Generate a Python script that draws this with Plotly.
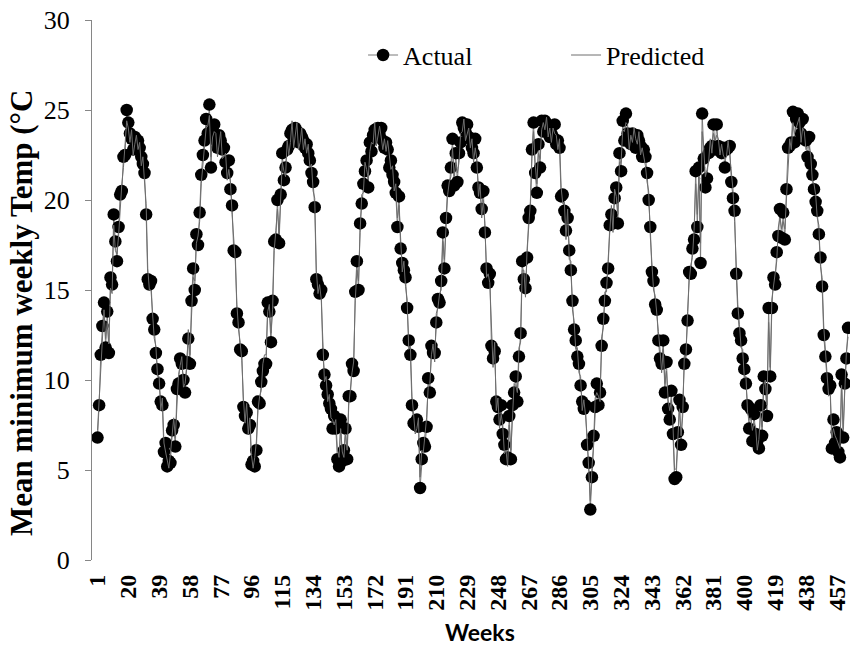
import plotly.graph_objects as go

# Actual mean minimum weekly temperature, read year by year (52 weeks each, last year partial)
actual_y1 = [6.8, 8.6, 11.4, 13.0, 14.3, 11.8, 13.8, 11.5, 15.7, 15.3, 19.2, 17.7, 16.6, 18.5, 20.3, 20.5, 22.4, 22.5, 25.0, 24.3,
             23.7, 23.4, 22.8, 23.5, 23.2, 23.3, 22.9, 22.4, 22.0, 21.5, 19.2, 15.6, 15.3, 15.5, 13.4, 12.8, 11.5, 10.6, 9.8, 8.8,
             8.6, 6.0, 6.5, 5.2, 5.5, 5.4, 7.2, 7.5, 6.3, 9.5, 9.8, 11.2]
actual_y2 = [10.9, 10.0, 9.3, 11.0, 12.3, 10.9, 14.4, 16.2, 15.0, 18.1, 17.5, 19.3, 21.4, 22.5, 23.3, 24.5, 23.7, 25.3, 21.8, 24.0,
             24.2, 23.3, 22.9, 23.6, 23.3, 22.8, 22.9, 22.1, 21.5, 22.2, 20.6, 19.7, 17.2, 17.1, 13.7, 13.2, 11.7, 11.6, 8.5, 8.0,
             8.2, 7.3, 7.5, 5.3, 5.5, 5.2, 6.1, 8.8, 8.7, 9.9, 10.5, 10.9]
actual_y3 = [10.9, 14.3, 13.8, 12.1, 14.4, 17.7, 17.8, 20.0, 17.6, 20.3, 22.6, 21.1, 21.8, 22.8, 23.0, 23.7, 23.9, 23.4, 24.0, 23.8,
             23.2, 23.7, 23.5, 23.3, 22.9, 23.1, 22.6, 22.2, 21.5, 21.0, 19.6, 15.6, 15.3, 14.8, 15.0, 11.4, 10.3, 9.7, 9.2, 8.7,
             8.4, 7.3, 8.0, 7.3, 5.6, 5.2, 7.8, 5.5, 6.1, 7.3, 5.6, 9.1]
actual_y4 = [9.1, 10.9, 10.5, 14.9, 16.6, 15.0, 18.7, 19.8, 20.9, 21.6, 22.2, 20.7, 23.2, 22.7, 23.6, 23.9, 23.5, 24.0, 23.6, 24.0,
             23.3, 22.9, 23.2, 22.8, 21.8, 22.2, 21.4, 21.0, 20.4, 18.5, 20.2, 17.3, 16.5, 16.1, 15.7, 14.0, 12.2, 11.4, 8.6, 7.6,
             7.5, 7.8, 7.4, 4.0, 5.6, 6.5, 6.3, 7.4, 10.1, 9.3, 11.9, 11.5]
actual_y5 = [11.5, 13.2, 14.5, 14.3, 15.5, 18.2, 16.2, 19.0, 20.8, 20.5, 21.8, 23.4, 20.8, 22.6, 21.0, 22.6, 23.2, 24.3, 24.0, 23.8,
             24.2, 23.5, 23.4, 22.9, 22.6, 23.4, 21.8, 20.7, 20.4, 19.5, 20.5, 18.2, 16.2, 15.4, 15.9, 11.9, 11.2, 11.6, 8.8, 8.5,
             7.8, 8.6, 7.0, 6.4, 5.6, 5.7, 8.0, 5.6, 8.6, 9.3, 10.2, 8.8]
actual_y6 = [11.3, 12.6, 16.6, 15.6, 15.1, 16.8, 19.0, 19.4, 22.8, 24.3, 21.5, 20.4, 23.1, 21.8, 24.4, 23.8, 24.4, 24.1, 24.0, 23.5,
             23.7, 23.5, 24.2, 23.1, 23.3, 22.9, 20.2, 20.3, 19.4, 18.3, 19.0, 17.2, 16.1, 14.4, 12.8, 12.2, 11.3, 10.9, 9.7, 8.8,
             8.4, 8.6, 6.4, 5.4, 2.8, 4.6, 6.9, 8.5, 9.8, 8.6, 9.3, 11.9]
actual_y7 = [13.4, 14.4, 15.4, 16.2, 18.6, 19.2, 18.7, 20.1, 20.7, 18.7, 22.6, 21.6, 24.4, 23.3, 24.8, 23.7, 23.3, 23.1, 23.7, 23.5,
             22.9, 23.6, 23.3, 23.0, 22.4, 22.8, 22.4, 21.5, 20.0, 18.5, 16.0, 15.5, 14.2, 13.9, 12.2, 11.2, 10.9, 12.2, 9.3, 11.0,
             8.4, 7.8, 9.4, 7.0, 4.5, 4.6, 7.1, 8.9, 6.4, 8.5, 10.9, 11.7]
actual_y8 = [13.3, 16.0, 15.9, 17.3, 17.8, 21.6, 18.5, 21.8, 16.5, 24.8, 22.3, 20.7, 21.2, 22.6, 22.9, 23.0, 24.2, 22.8, 24.2, 23.0,
             22.9, 22.6, 22.9, 21.8, 22.8, 22.9, 23.0, 21.0, 20.1, 19.4, 15.9, 13.7, 12.6, 12.2, 11.2, 10.6, 9.8, 8.6, 7.3, 8.4,
             6.6, 8.1, 7.0, 6.6, 6.2, 8.6, 6.9, 10.2, 9.5, 8.0, 14.0, 10.2]
actual_y9 = [14.0, 15.7, 15.3, 17.1, 18.0, 19.5, 17.9, 19.3, 17.8, 20.6, 22.9, 23.0, 23.2, 24.9, 23.2, 24.5, 24.8, 24.3, 23.7, 24.5,
             23.4, 23.3, 22.4, 23.5, 22.0, 21.4, 20.6, 19.9, 19.4, 18.1, 16.8, 15.2, 12.5, 11.3, 10.1, 9.5, 9.7, 6.2, 7.8, 6.5,
             7.1, 6.0, 5.7, 10.3, 6.8, 9.8, 11.2, 12.9]

# Predicted series, read the same way
pred_y1 = [7.2, 9.0, 10.9, 12.6, 13.9, 12.3, 13.2, 12.0, 15.1, 14.8, 18.6, 17.2, 17.0, 18.0, 19.8, 20.9, 21.8, 22.9, 24.4, 24.0,
           23.2, 23.9, 22.5, 23.1, 23.6, 22.8, 23.2, 21.9, 22.4, 21.0, 19.8, 16.2, 15.0, 15.0, 13.9, 12.3, 11.9, 10.2, 10.2, 8.3,
           9.0, 6.5, 6.0, 5.6, 5.1, 5.9, 6.8, 7.9, 6.8, 9.0, 10.3, 10.8]
pred_y2 = [11.3, 9.6, 9.8, 10.6, 12.8, 11.4, 13.9, 15.7, 15.5, 17.6, 18.0, 18.8, 20.9, 22.0, 23.0, 24.0, 24.1, 24.7, 22.4, 23.5,
           23.8, 23.7, 22.4, 23.1, 23.8, 22.3, 22.4, 22.6, 21.1, 21.7, 21.0, 19.2, 17.7, 16.6, 14.2, 12.8, 12.1, 11.1, 9.0, 7.6,
           8.7, 7.0, 7.9, 5.8, 5.1, 5.7, 6.6, 8.3, 9.1, 9.4, 10.9, 11.4]
pred_y3 = [11.4, 13.8, 14.2, 12.6, 13.9, 17.2, 18.3, 19.5, 18.1, 19.8, 22.1, 21.6, 21.3, 23.3, 22.5, 23.2, 24.4, 22.9, 23.6, 24.3,
           22.8, 23.2, 24.0, 22.8, 23.4, 22.6, 23.1, 21.8, 22.0, 20.5, 20.1, 16.1, 14.8, 15.3, 14.5, 11.9, 9.9, 10.2, 8.8, 9.2,
           7.9, 7.8, 7.5, 7.8, 6.1, 5.7, 7.3, 6.0, 5.7, 7.0, 6.1, 8.6]
pred_y4 = [9.6, 10.4, 11.0, 14.4, 16.1, 15.5, 18.2, 20.3, 20.4, 22.1, 21.7, 21.2, 22.7, 23.2, 23.1, 24.3, 23.0, 23.5, 24.1, 23.5,
           22.8, 23.4, 22.7, 23.3, 22.3, 21.7, 21.9, 20.5, 20.9, 19.0, 19.7, 17.8, 16.0, 16.6, 15.2, 14.5, 11.7, 11.9, 9.1, 8.1,
           7.0, 7.3, 7.9, 4.6, 6.1, 6.0, 6.8, 7.9, 9.6, 9.8, 11.4, 12.0]
pred_y5 = [11.0, 13.7, 14.0, 14.8, 15.0, 17.7, 16.7, 18.5, 20.3, 21.0, 21.3, 22.9, 21.3, 22.1, 21.5, 22.1, 23.7, 23.8, 24.5, 23.3,
           23.7, 24.0, 22.9, 23.4, 22.1, 22.9, 22.3, 20.2, 20.9, 19.0, 20.0, 18.7, 15.7, 15.9, 15.4, 12.4, 10.7, 12.1, 8.3, 9.0,
           7.3, 8.1, 7.5, 5.9, 6.1, 5.2, 7.5, 6.1, 8.1, 9.8, 9.7, 9.3]
pred_y6 = [11.8, 12.1, 16.1, 16.1, 14.6, 17.3, 18.5, 19.9, 22.3, 23.8, 22.0, 20.9, 22.6, 22.3, 23.9, 24.3, 23.9, 24.6, 23.5, 24.0,
           23.2, 24.0, 23.7, 23.6, 22.8, 23.4, 20.7, 19.8, 19.9, 17.8, 19.5, 16.7, 16.6, 13.9, 13.3, 11.7, 11.8, 10.4, 10.2, 8.3,
           8.9, 8.1, 6.9, 4.9, 3.3, 5.1, 6.4, 9.0, 9.3, 9.1, 8.8, 12.4]
pred_y7 = [12.9, 14.9, 14.9, 16.7, 18.1, 19.7, 18.2, 20.6, 20.2, 19.2, 22.1, 22.1, 23.9, 23.8, 24.3, 24.2, 22.8, 23.6, 23.2, 24.0,
           23.4, 23.1, 23.8, 22.5, 22.9, 22.3, 21.9, 21.0, 20.5, 18.0, 16.5, 15.0, 14.7, 13.4, 12.7, 11.7, 10.4, 11.7, 9.8, 10.5,
           8.9, 8.3, 8.9, 7.5, 5.0, 5.1, 6.6, 8.4, 6.9, 8.0, 11.4, 11.2]
pred_y8 = [13.8, 15.5, 16.4, 16.8, 18.3, 20.9, 19.2, 21.3, 17.6, 23.8, 22.8, 21.3, 21.7, 22.1, 23.4, 22.6, 23.7, 23.3, 23.6, 23.4,
           22.5, 23.1, 22.5, 22.3, 22.4, 23.3, 22.5, 21.5, 20.6, 18.8, 16.6, 14.2, 13.1, 11.8, 11.7, 10.1, 10.2, 8.2, 7.8, 7.9,
           7.2, 7.6, 7.4, 6.1, 6.7, 8.1, 7.4, 9.7, 10.0, 8.6, 13.2, 10.7]
pred_y9 = [14.5, 15.2, 15.8, 16.6, 18.5, 19.0, 18.4, 18.8, 18.4, 20.2, 22.4, 23.4, 22.8, 24.3, 23.7, 24.0, 24.2, 24.6, 23.2, 24.0,
           23.8, 22.8, 22.9, 23.0, 22.5, 21.0, 20.9, 20.3, 19.0, 18.6, 16.3, 15.7, 13.0, 11.8, 10.6, 9.1, 9.2, 6.8, 7.3, 6.9,
           6.7, 6.5, 6.2, 9.7, 7.3, 9.4, 11.6, 12.4]

tick_labels = ["1", "20", "39", "58", "77", "96", "115", "134", "153", "172", "191", "210", "229",
               "248", "267", "286", "305", "324", "343", "362", "381", "400", "419", "438", "457"]

actual = (actual_y1 + actual_y2 + actual_y3 + actual_y4 + actual_y5 +
          actual_y6 + actual_y7 + actual_y8 + actual_y9)
predicted = (pred_y1 + pred_y2 + pred_y3 + pred_y4 + pred_y5 +
             pred_y6 + pred_y7 + pred_y8 + pred_y9)
weeks = list(range(1, len(actual) + 1))
tick_vals = [int(t) for t in tick_labels]

SERIF = "Times New Roman, Liberation Serif, serif"

fig = go.Figure()
fig.add_trace(go.Scatter(
    x=weeks, y=actual, name="Actual", mode="lines+markers",
    line=dict(color="#7a7a7a", width=1),
    marker=dict(color="black", size=12.5, line=dict(width=0)),
))
fig.add_trace(go.Scatter(
    x=weeks, y=predicted, name="Predicted", mode="lines",
    line=dict(color="#6e6e6e", width=1),
))

fig.update_layout(
    width=850, height=655,
    margin=dict(l=92, r=0, t=20, b=95),
    plot_bgcolor="white", paper_bgcolor="white",
    font=dict(family=SERIF, color="black"),
    showlegend=True,
    legend=dict(orientation="h", x=0.3576, y=0.935, xanchor="left", yanchor="middle",
                font=dict(size=26, family=SERIF, color="black"),
                entrywidth=158, entrywidthmode="pixels",
                bgcolor="rgba(0,0,0,0)", borderwidth=0),
    xaxis=dict(range=[-2.4, 465.2], tickmode="array", tickvals=tick_vals, ticktext=tick_labels,
               tickangle=-90, tickfont=dict(size=24, family=SERIF, weight="bold", color="black"),
               ticklabeloverflow="allow", ticklabelstandoff=9, automargin=False,
               showline=False, showgrid=False, zeroline=False, ticks=""),
    yaxis=dict(range=[0, 30], dtick=5, tick0=0, showline=True, linecolor="#868686", linewidth=1,
               ticks="outside", ticklen=6, tickcolor="#868686", showgrid=False, zeroline=False,
               automargin=False, ticklabeloverflow="allow",
               tickfont=dict(size=26, family=SERIF, color="black"), ticklabelstandoff=10),
    annotations=[
        dict(text="<b>Mean minimum weekly Temp (°C</b>", xref="paper", yref="paper",
             x=(22 - 92) / 758, y=(560 - 313) / 540, xanchor="center", yanchor="middle",
             textangle=-90, showarrow=False, font=dict(size=31, family=SERIF, color="black")),
        dict(text="<b>Weeks</b>", xref="paper", yref="paper",
             x=(480 - 92) / 758, y=(560 - 632) / 540, xanchor="center", yanchor="middle",
             showarrow=False, font=dict(size=23, family="Lato", color="black")),
    ],
)

# remove the default page margin so the figure sits at the window's top-left corner
fig.write_html("out.html", config={"displayModeBar": False},
               post_script="document.body.style.margin='0';")
